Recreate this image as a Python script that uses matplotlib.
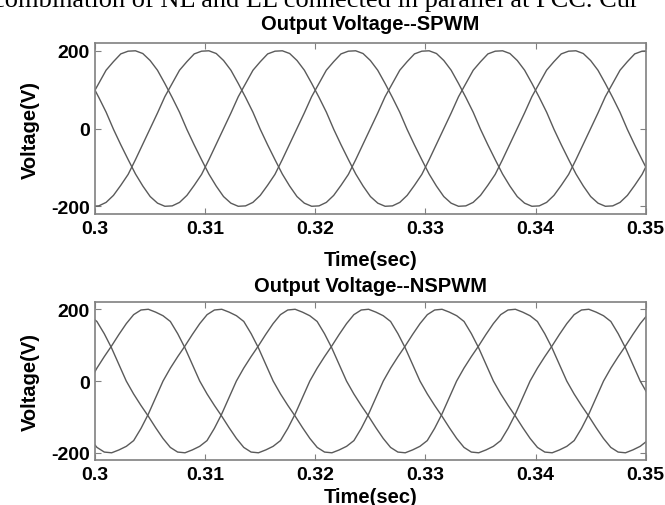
import numpy as np
import matplotlib
matplotlib.use("Agg")
import matplotlib.pyplot as plt

plt.rcParams['font.family'] = ['Liberation Sans', 'DejaVu Sans']
plt.rcParams['axes.unicode_minus'] = False

# one period of each output waveform (V),
# sampled every 12 degrees starting at the rising zero crossing
period = 0.02
spwm_wave = [0, 40, 82, 116, 150, 172, 192, 199, 200, 193, 175, 150, 116, 80, 42,
             -2, -42, -80, -117, -148, -175, -192, -200, -199, -190, -172, -146, -118, -80, -40]
nspwm_wave = [0, 36, 68, 98, 130, 160, 185, 198, 200, 192, 182, 166, 132, 92, 46,
              0, -36, -68, -98, -130, -160, -185, -198, -200, -192, -182, -166, -132, -92, -46]

# time of the rising zero crossing of each phase (sec)
spwm_zero = [0.29833, 0.29167, 0.30500]
nspwm_zero = [0.29283, 0.29950, 0.30617]

titles = ['Output Voltage--SPWM', 'Output Voltage--NSPWM']
xticks = [0.3, 0.31, 0.32, 0.33, 0.34, 0.35]
xticklabels = ['0.3', '0.31', '0.32', '0.33', '0.34', '0.35']
yticks = [-200, 0, 200]


def phase_curve(wave, t0, n_periods=4):
    n = len(wave)
    dt = period / n
    t = t0 - period + np.arange(n * n_periods + 1) * dt
    v = np.append(np.tile(wave, n_periods), wave[0])
    return t, v


fig = plt.figure(figsize=(6.65, 5.06), dpi=100)
fig.text(-0.01, 0.986, 'combination of NL and LL connected in parallel at PCC. Cur',
         family='Liberation Serif', fontsize=19, va='baseline', ha='left')

ax1 = fig.add_axes([0.143, 0.575, 0.828, 0.338])
ax2 = fig.add_axes([0.143, 0.089, 0.828, 0.312])

for ax, wave, zeros, title, tpad, xpad in [(ax1, spwm_wave, spwm_zero, titles[0], 10, 10),
                                           (ax2, nspwm_wave, nspwm_zero, titles[1], 8, 3)]:
    for t0 in zeros:
        t, v = phase_curve(wave, t0)
        ax.plot(t, v, color='#5a5a5a', lw=1.0)
    ax.set_xlim(0.3, 0.35)
    ax.set_ylim(-220, 220)
    ax.set_xticks(xticks)
    ax.set_xticklabels(xticklabels)
    ax.set_yticks(yticks)
    ax.tick_params(direction='in', length=4, width=0.8, color='#808080',
                   top=True, right=True, labelsize=14, pad=4)
    for lab in ax.get_xticklabels() + ax.get_yticklabels():
        lab.set_fontweight('bold')
    for s in ax.spines.values():
        s.set_color('#808080')
        s.set_linewidth(1.2)
    ax.set_title(title, fontsize=14.5, fontweight='bold', pad=tpad)
    ax.set_xlabel('Time(sec)', fontsize=14.5, fontweight='bold', labelpad=xpad)
    ax.set_ylabel('Voltage(V)', fontsize=14.5, fontweight='bold', labelpad=8)

plt.savefig('out.png', dpi=100)
